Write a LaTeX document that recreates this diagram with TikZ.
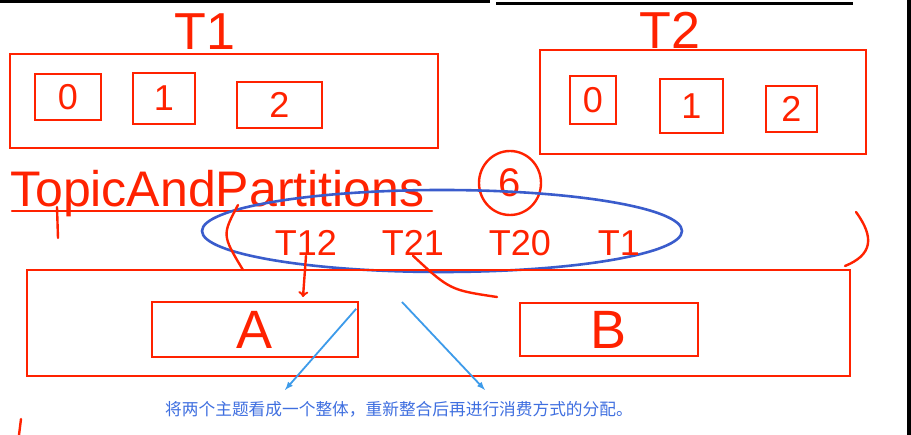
\documentclass[tikz,border=0pt]{standalone}
\usepackage{fontspec}
\setsansfont{Liberation Sans}
\newfontfamily\cjkfont{Noto Sans CJK SC}
\usetikzlibrary{calc,positioning,arrows,shapes.geometric}
\definecolor{inkred}{HTML}{FF2200}
\definecolor{inkblue}{HTML}{3A5CCC}
\definecolor{hintblue}{HTML}{3D9BEA}
\definecolor{noteblue}{HTML}{3F6FE0}

\begin{document}
\begin{tikzpicture}
        [x=1pt, y=-1pt,
          topic/.style={
            draw=inkred,
            line width=2.4pt,
            inner sep=0pt},
          hand/.style={
            text=inkred,
            inner sep=0pt,
            font=\sffamily\fontsize{#1}{#1}\selectfont},
          hand/.default=36,
          part/.style={topic, hand=#1},
          part/.default=36,
          stroke/.style={draw=inkred, line width=2.4pt, line cap=round, line join=round},
          hint/.style={draw=hintblue, line width=1.8pt, -latex}]
        \useasboundingbox (0,0) rectangle (911,435);
        \fill[white] (0,0) rectangle (911,435);
        \fill[black] (0,0) rectangle (490,3);
        \fill[black] (496,2) rectangle (853,5);
        \fill[black] (907,0) rectangle (911,435);

        % topic T1
        \node[hand=52] (t1label) at (205,32) {T1};
        \node[topic, minimum width=428pt, minimum height=94pt] (t1) at (224,101) {};
        \node[part, minimum width=66pt, minimum height=46pt] (t1p0) at (68,97) {0};
        \node[part, minimum width=62pt, minimum height=51pt] (t1p1) at (164,98.5) {1};
        \node[part, minimum width=85pt, minimum height=46pt] (t1p2) at (279.5,105) {2};

        % topic T2
        \node[hand=52] (t2label) at (670,30) {T2};
        \node[topic, minimum width=326pt, minimum height=104pt] (t2) at (703,102) {};
        \node[part, minimum width=46pt, minimum height=48pt] (t2p0) at (593,100) {0};
        \node[part, minimum width=63pt, minimum height=54pt] (t2p1) at (691.5,106) {1};
        \node[part, minimum width=51pt, minimum height=46pt] (t2p2) at (791.5,109) {2};

        % TopicAndPartitions (6)
        \node[hand=50, anchor=base west] (tap) at (10,207) {TopicAndPartitions};
        \draw[stroke] (tap.base west) ++(2,4) -- ++(420,0);
        \draw[stroke] (57,207) -- (58,238);
        \node[hand=40, draw=inkred, line width=2.4pt, ellipse,
          minimum width=62pt, minimum height=64pt] (six) at (510,183) {6};

        \node[draw=inkblue, line width=2.6pt, ellipse,
          minimum width=480pt, minimum height=82pt] (merged) at (442,231) {};
        \node[hand=36] (t12) at (306,243) {T12};
        \node[hand=36] (t21) at (413,243) {T21};
        \node[hand=36] (t20) at (520,243) {T20};
        \node[hand=36] (t1x) at (619,243) {T1};
        \draw[stroke] (238,205) .. controls (222,235) .. (243,270);
        \draw[stroke] (856,212) .. controls (875,238) and (872,255) .. (845,266);
        \draw[stroke] (t21.south) .. controls (450,290) .. (497,297);

        % consumer group
        \node[topic, minimum width=823pt, minimum height=106pt] (group) at (438.5,323) {};
        \node[part=54, minimum width=206pt, minimum height=55pt] (ca) at (255,329.5) {A};
        \node[part=54, minimum width=178pt, minimum height=53pt] (cb) at (609,329.5) {B};
        \coordinate (ahead) at (303,297);
        \draw[stroke, ->] (t12.south) -- (ahead);

        \node[text=noteblue, inner sep=0pt, font=\cjkfont\fontsize{16.7}{20}\selectfont]
          (note) at (399,409) {将两个主题看成一个整体，重新整合后再进行消费方式的分配。};
        \coordinate (split) at (402,302);
        \coordinate (noteL) at (285,390);
        \coordinate (noteR) at (485,390);
        \draw[hint] ($(ca.north east)+(-3,8)$) -- (noteL);
        \draw[hint] (split) -- (noteR);
        \draw[stroke] (21,419) -- (19,435);
      \end{tikzpicture}
\end{document}
